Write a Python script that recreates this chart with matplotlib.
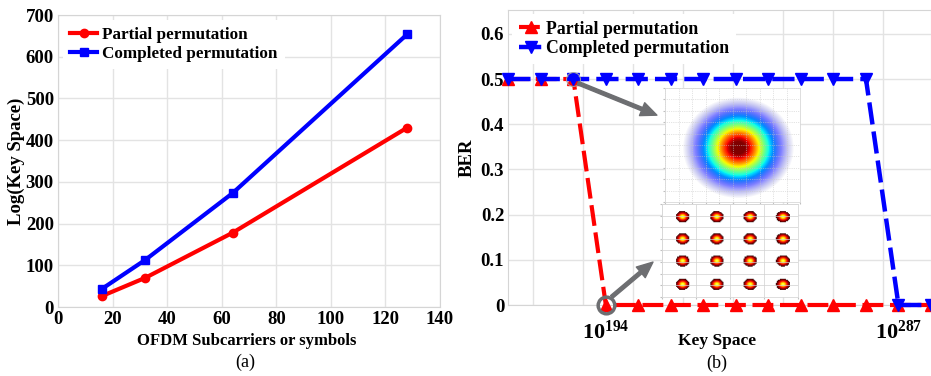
import numpy as np
import matplotlib
matplotlib.use("Agg")
import matplotlib.pyplot as plt

plt.rcParams['font.family'] = ['Liberation Serif', 'DejaVu Serif']
plt.rcParams['font.weight'] = 'bold'
plt.rcParams['mathtext.fontset'] = 'custom'
plt.rcParams['mathtext.rm'] = 'Liberation Serif:bold'
plt.rcParams['mathtext.bf'] = 'Liberation Serif:bold'

# (a) key space vs number of subcarriers
subcarriers = [16, 32, 64, 128]
partial_log = [26, 70, 178, 430]
complete_log = [43, 113, 273, 654]

# (b) BER vs key space (ordered key-space points)
key_idx = list(range(14))
partial_ber = [0.5, 0.5, 0.5] + [0.0] * 11
complete_ber = [0.5] * 12 + [0.0, 0.0]
key_ticks = [3, 12]
key_tick_labels = [r'$\mathbf{10^{194}}$', r'$\mathbf{10^{287}}$']

W, H = 931, 376
fig = plt.figure(figsize=(W / 100, H / 100), dpi=100)
gridc = '#e3e3e3'
grey = '#6d6e71'

# ---------------- (a) ----------------
ax1 = fig.add_axes([58 / W, 1 - 307 / H, 382 / W, 292 / H])
ax1.plot(subcarriers, partial_log, '-o', color='red', lw=3, ms=6,
         label='Partial permutation')
ax1.plot(subcarriers, complete_log, '-s', color='blue', lw=3, ms=6,
         label='Completed permutation')
ax1.set_xlim(0, 140)
ax1.set_ylim(0, 700)
ax1.set_xticks(np.arange(0, 141, 20))
ax1.set_yticks(np.arange(0, 701, 100))
ax1.grid(True, color=gridc, lw=1)
ax1.set_axisbelow(True)
for s in ax1.spines.values():
    s.set_color('#d5d5d5')
ax1.tick_params(length=0, labelsize=13.5, pad=3)
ax1.set_xlabel('OFDM Subcarriers or symbols', fontsize=12, fontweight='bold')
ax1.set_ylabel('Log(Key Space)', fontsize=13.5, fontweight='bold')
ax1.xaxis.set_label_coords(0.495, -0.088)
ax1.yaxis.set_label_coords(-0.086, 0.5)
leg1 = ax1.legend(loc='upper left', bbox_to_anchor=(0.0, 1.0), frameon=True,
                  fancybox=False, edgecolor='none', framealpha=1,
                  prop={'size': 12.3, 'weight': 'bold'}, handlelength=1.6,
                  handletextpad=0.3, borderaxespad=0.3, labelspacing=0.2,
                  numpoints=1)

# ---------------- (b) ----------------
ax2 = fig.add_axes([508.3 / W, 1 - 305 / H, 422.7 / W, 295 / H])
ax2.plot(key_idx, partial_ber, '--^', color='red', lw=3, ms=8,
         dashes=(5, 1.6), label='Partial permutation', clip_on=False, zorder=3)
ax2.plot(key_idx, complete_ber, '--v', color='blue', lw=3.2, ms=8,
         dashes=(5, 1.6), label='Completed permutation', clip_on=False, zorder=4)
ax2.set_xlim(0, 13)
ax2.set_ylim(0, 0.6527)
ax2.set_yticks(np.arange(0, 0.61, 0.1))
ax2.set_yticklabels(['0', '0.1', '0.2', '0.3', '0.4', '0.5', '0.6'])
ax2.set_xticks(key_ticks)
ax2.set_xticklabels(key_tick_labels)
ax2.set_xticks(np.arange(0.76, 13, 20 / 13), minor=True)
ax2.grid(True, which='minor', axis='x', color=gridc, lw=1)
ax2.grid(True, which='major', axis='y', color=gridc, lw=1)
ax2.set_axisbelow(True)
for s in ax2.spines.values():
    s.set_color('#d5d5d5')
ax2.tick_params(which='both', length=0)
ax2.tick_params(axis='y', labelsize=13.5, pad=3)
ax2.tick_params(axis='x', labelsize=16, pad=11)
ax2.set_xlabel('Key Space', fontsize=12.5, fontweight='bold')
ax2.set_ylabel('BER', fontsize=13.5, fontweight='bold')
ax2.xaxis.set_label_coords(0.495, -0.095)
ax2.yaxis.set_label_coords(-0.076, 0.5)
leg2 = ax2.legend(loc='upper left', bbox_to_anchor=(0.0, 1.0), frameon=True,
                  fancybox=False, edgecolor='none', framealpha=1,
                  prop={'size': 12.8, 'weight': 'bold'}, handlelength=1.3,
                  handletextpad=0.2, borderaxespad=0.2, labelspacing=0.15,
                  numpoints=1)

# highlight circles at the drop point
ax2.plot(key_idx[2], partial_ber[2], 'o', ms=10, mfc='none', mec='#a0a0a0',
         mew=0.7, zorder=5, clip_on=False)
ax2.plot(key_idx[3], partial_ber[3], 'o', ms=12, mfc='none', mec=grey,
         mew=2.5, zorder=5, clip_on=False)

arrow = dict(arrowstyle='simple,head_length=1.15,head_width=1.0,tail_width=0.25',
             color=grey, mutation_scale=10, shrinkA=0, shrinkB=0)
ax2.annotate('', xy=(4.57, 0.42), xytext=(2.14, 0.491), arrowprops=arrow, zorder=6)
ax2.annotate('', xy=(4.45, 0.095), xytext=(3.18, 0.018), arrowprops=arrow, zorder=6)

# inset: eavesdropper constellation (noise-like cloud)
axi1 = fig.add_axes([665 / W, 1 - 202 / H, 135 / W, 114 / H])
yy, xx = np.mgrid[0:114, 0:135]
d2 = (xx - 0.54 * 135) ** 2 + ((yy - 0.52 * 114) * 1.1) ** 2
v = np.exp(-d2 / (2 * 21.0 ** 2))
rgba = plt.cm.jet(np.clip(v * 1.05, 0, 1))
rgba[..., 3] = np.clip((v - 0.03) * 4.5, 0, 1) ** 0.8
axi1.imshow(rgba, extent=(0, 135, 114, 0), interpolation='bilinear')
axi1.set_xticks(np.arange(0, 136, 13.5))
axi1.set_yticks(np.arange(0, 115, 11.4))
axi1.grid(True, color='#c8c8c8', lw=0.5, ls=':')

# inset: legal 16QAM constellation
axi2 = fig.add_axes([662 / W, 1 - 297 / H, 136 / W, 93 / H])
yy, xx = np.mgrid[0:93, 0:136]
img = np.zeros((93, 136))
for cx in [0.147, 0.397, 0.64, 0.88]:
    for cy in [0.14, 0.376, 0.61, 0.86]:
        img += np.exp(-((xx - cx * 136) ** 2 / (2 * 3.2 ** 2) +
                        (yy - cy * 93) ** 2 / (2 * 2.6 ** 2)))
img = np.ma.masked_less(img, 0.1)
axi2.imshow(img, cmap='hot', vmin=0.0, vmax=1.2, extent=(0, 136, 93, 0),
            interpolation='bilinear')
axi2.set_xticks(np.arange(0, 137, 34))
axi2.set_yticks(np.arange(0, 94, 11.6))
axi2.grid(True, color='#d0d0d0', lw=0.5)

for a in (axi1, axi2):
    a.set_xlim(0, a.get_images()[0].get_extent()[1])
    a.tick_params(length=1.5, labelleft=False, labelbottom=False, color='#c0c0c0')
    for s in a.spines.values():
        s.set_color('#d8d8d8')
        s.set_linewidth(0.6)

fig.text(245 / W, 1 - 362 / H, '(a)', ha='center', va='center', fontsize=13,
         fontweight='normal')
fig.text(717 / W, 1 - 363 / H, '(b)', ha='center', va='center', fontsize=13,
         fontweight='normal')

fig.savefig('out.png', dpi=100)
